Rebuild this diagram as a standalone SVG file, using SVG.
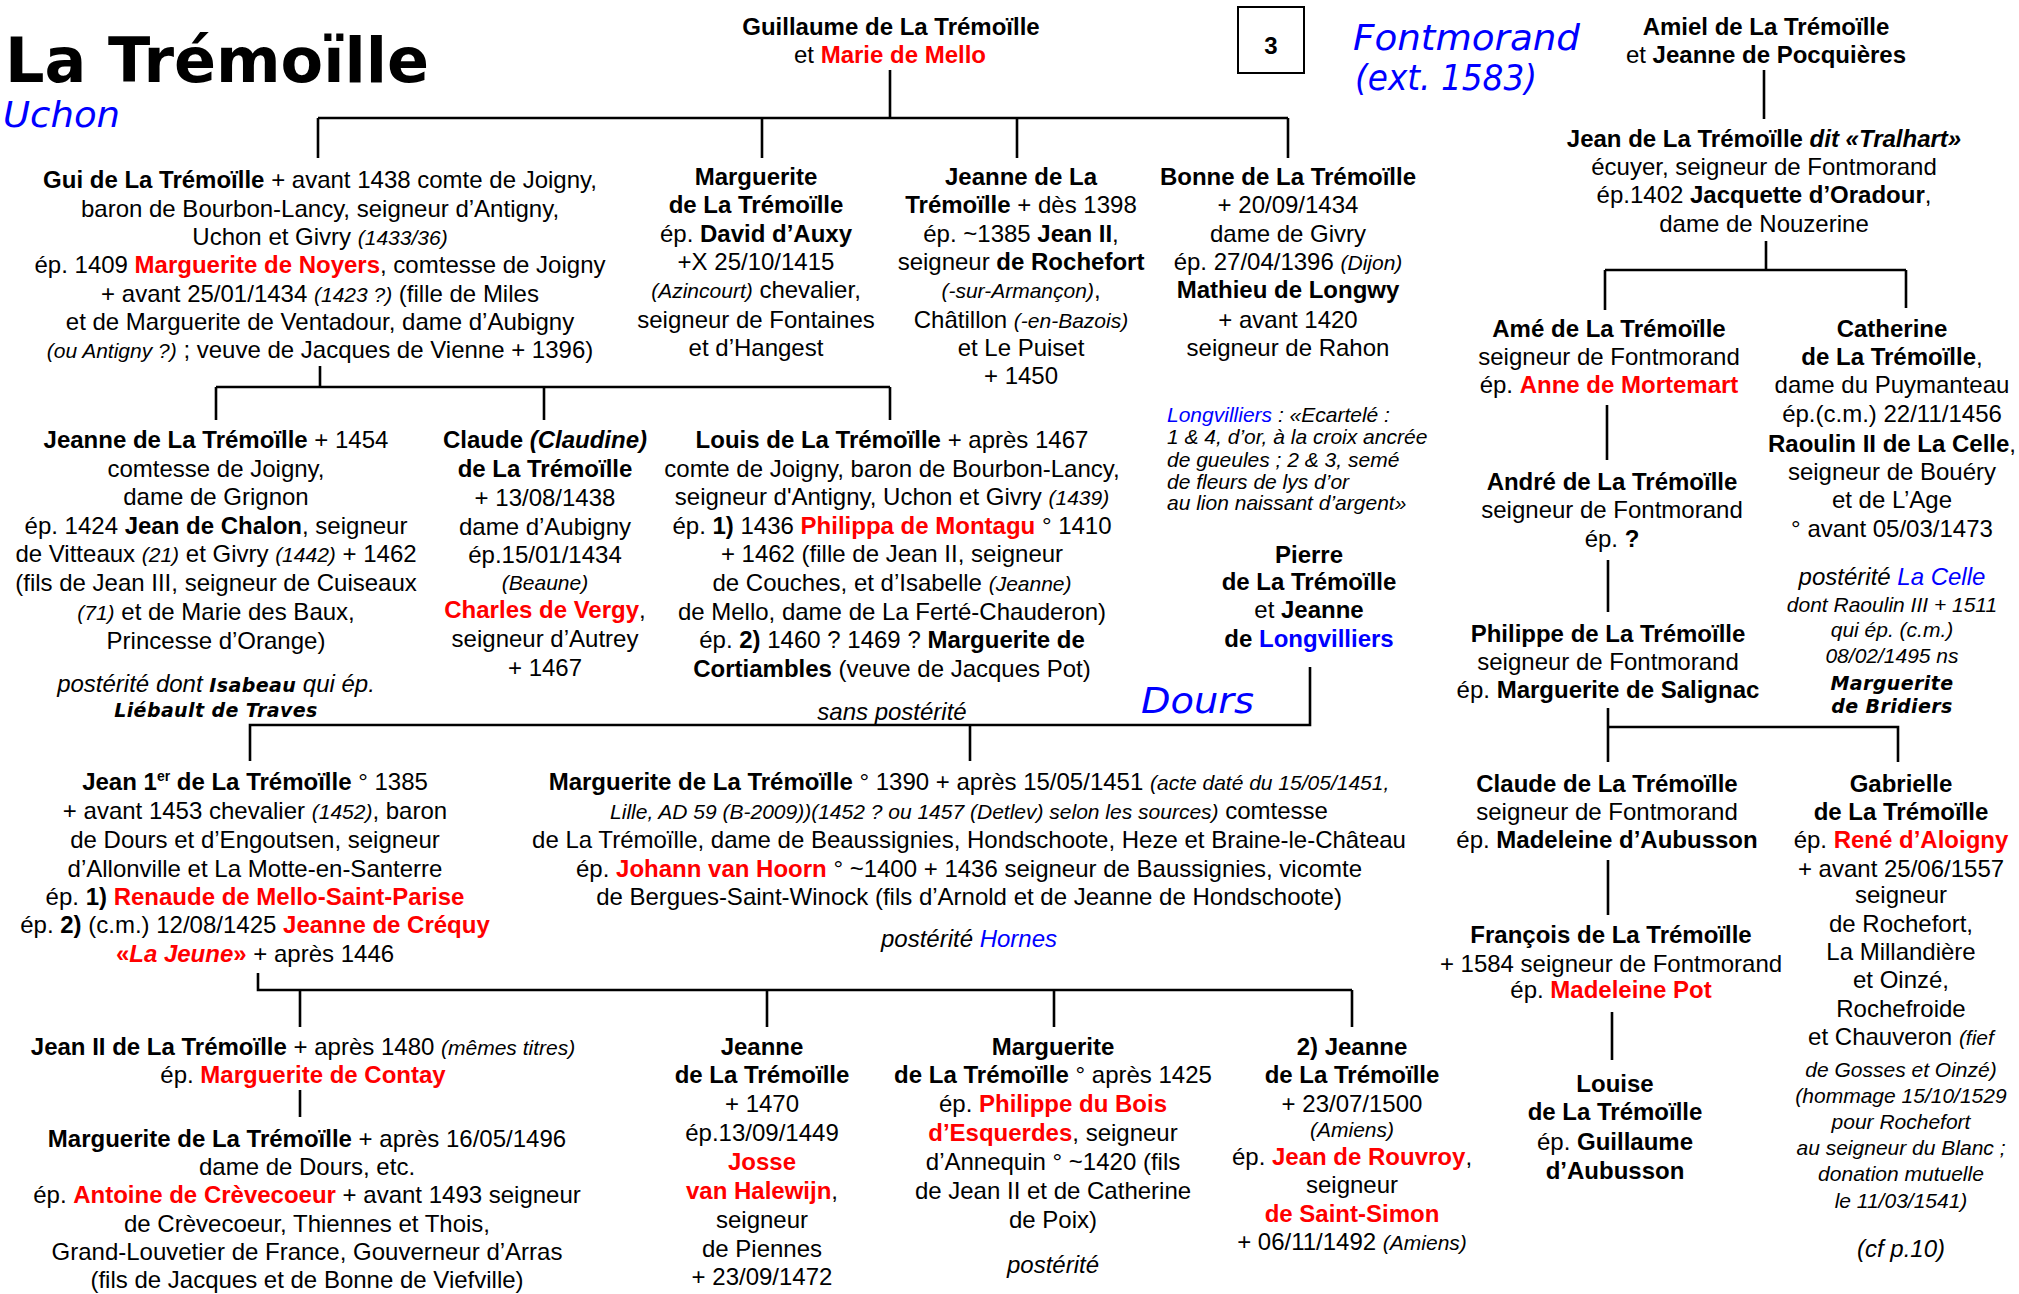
<svg xmlns="http://www.w3.org/2000/svg" width="2019" height="1294" viewBox="0 0 2019 1294">
<style>
.t{font-family:"Liberation Sans",Arial,sans-serif;font-size:24px;fill:#000;text-anchor:middle}
.l{text-anchor:start}
.b{font-weight:bold}
.i{font-style:italic}
.s{font-size:21px}
.n{font-size:21px}
.r{fill:#ff0000}
.u{fill:#0000ff}
.v{font-family:"DejaVu Sans",Verdana,sans-serif;font-weight:bold;font-style:italic;font-size:19px;letter-spacing:0.4px}
.h{font-family:"DejaVu Sans",Verdana,sans-serif;font-style:italic;fill:#0000ff;font-size:36px}
.ln{stroke:#000;stroke-width:2.6;fill:none}
</style>
<rect width="2019" height="1294" fill="#fff"/>

<g id="headings">
<text x="5" y="82" font-family="'DejaVu Sans',Verdana,sans-serif" font-weight="bold" font-size="62" textLength="424" lengthAdjust="spacingAndGlyphs">La Trémoïlle</text>
<text class="h" x="3" y="127" textLength="117" lengthAdjust="spacingAndGlyphs">Uchon</text>
<text class="h" x="1353" y="50" textLength="227" lengthAdjust="spacingAndGlyphs">Fontmorand</text>
<text class="h" x="1355" y="90" textLength="182" lengthAdjust="spacingAndGlyphs">(ext. 1583)</text>
<text class="h" x="1141" y="713" textLength="113" lengthAdjust="spacingAndGlyphs">Dours</text>
</g>

<g id="pagebox">
<rect x="1238" y="7" width="66" height="66" fill="none" stroke="#000" stroke-width="2"/>
<text class="t b" x="1271" y="54" font-size="28">3</text>
</g>

<g id="connectors" class="ln">
<path d="M890 70V118M318 118H1288M318 118V158M762 118V158M1017 118V158M1288 118V158"/>
<path d="M320 366V387M216 387H890M216 387V420M544 387V420M890 387V420"/>
<path d="M1310 667V725H250V761M970 725V761"/>
<path d="M258 973V990H1352M300 990V1027M767 990V1027M1054 990V1027M1352 990V1027"/>
<path d="M300 1090V1117"/>
<path d="M1764 70V119"/>
<path d="M1766 241V270M1605 270H1906M1605 270V310M1906 270V308"/>
<path d="M1607 405V460M1608 560V612"/>
<path d="M1608 708V762M1608 727H1898V762"/>
<path d="M1608 860V915M1612 1012V1060"/>
</g>

<g id="guillaume">
<text class="t b" x="891" y="35">Guillaume de La Trémoïlle</text>
<text class="t" x="890" y="63">et <tspan class="b r">Marie de Mello</tspan></text>
</g>

<g id="gui">
<text class="t" x="320" y="188"><tspan class="b">Gui de La Trémoïlle</tspan> + avant 1438 comte de Joigny,</text>
<text class="t" x="320" y="217">baron de Bourbon-Lancy, seigneur d’Antigny,</text>
<text class="t" x="320" y="245">Uchon et Givry <tspan class="i s">(1433/36)</tspan></text>
<text class="t" x="320" y="273">ép. 1409 <tspan class="b r">Marguerite de Noyers</tspan>, comtesse de Joigny</text>
<text class="t" x="320" y="302">+ avant 25/01/1434 <tspan class="i s">(1423 ?)</tspan> (fille de Miles</text>
<text class="t" x="320" y="330">et de Marguerite de Ventadour, dame d’Aubigny</text>
<text class="t" x="320" y="358"><tspan class="i s">(ou Antigny ?)</tspan> ; veuve de Jacques de Vienne + 1396)</text>
</g>

<g id="marguerite1">
<text class="t b" x="756" y="185">Marguerite</text>
<text class="t b" x="756" y="213">de La Trémoïlle</text>
<text class="t" x="756" y="242">ép. <tspan class="b">David d’Auxy</tspan></text>
<text class="t" x="756" y="270">+X 25/10/1415</text>
<text class="t" x="756" y="298"><tspan class="i s">(Azincourt)</tspan> chevalier,</text>
<text class="t" x="756" y="328">seigneur de Fontaines</text>
<text class="t" x="756" y="356">et d’Hangest</text>
</g>

<g id="jeanne1">
<text class="t b" x="1021" y="185">Jeanne de La</text>
<text class="t" x="1021" y="213"><tspan class="b">Trémoïlle</tspan> + dès 1398</text>
<text class="t" x="1021" y="242">ép. ~1385 <tspan class="b">Jean II</tspan>,</text>
<text class="t" x="1021" y="270">seigneur <tspan class="b">de Rochefort</tspan></text>
<text class="t" x="1021" y="298"><tspan class="i s">(-sur-Armançon)</tspan>,</text>
<text class="t" x="1021" y="328">Châtillon <tspan class="i s">(-en-Bazois)</tspan></text>
<text class="t" x="1021" y="356">et Le Puiset</text>
<text class="t" x="1021" y="384">+ 1450</text>
</g>

<g id="bonne">
<text class="t b" x="1288" y="185">Bonne de La Trémoïlle</text>
<text class="t" x="1288" y="213">+ 20/09/1434</text>
<text class="t" x="1288" y="242">dame de Givry</text>
<text class="t" x="1288" y="270">ép. 27/04/1396 <tspan class="i s">(Dijon)</tspan></text>
<text class="t b" x="1288" y="298">Mathieu de Longwy</text>
<text class="t" x="1288" y="328">+ avant 1420</text>
<text class="t" x="1288" y="356">seigneur de Rahon</text>
</g>

<g id="longvilliers-note">
<text class="t l i n" x="1167" y="422"><tspan class="u">Longvilliers</tspan> : «Ecartelé :</text>
<text class="t l i n" x="1167" y="444">1 &amp; 4, d’or, à la croix ancrée</text>
<text class="t l i n" x="1167" y="467">de gueules ; 2 &amp; 3, semé</text>
<text class="t l i n" x="1167" y="489">de fleurs de lys d’or</text>
<text class="t l i n" x="1167" y="510">au lion naissant d’argent»</text>
</g>

<g id="pierre">
<text class="t b" x="1309" y="563">Pierre</text>
<text class="t b" x="1309" y="590">de La Trémoïlle</text>
<text class="t" x="1309" y="618">et <tspan class="b">Jeanne</tspan></text>
<text class="t b" x="1309" y="647">de <tspan class="u">Longvilliers</tspan></text>
</g>

<g id="jeanne2">
<text class="t" x="216" y="448"><tspan class="b">Jeanne de La Trémoïlle</tspan> + 1454</text>
<text class="t" x="216" y="477">comtesse de Joigny,</text>
<text class="t" x="216" y="505">dame de Grignon</text>
<text class="t" x="216" y="534">ép. 1424 <tspan class="b">Jean de Chalon</tspan>, seigneur</text>
<text class="t" x="216" y="562">de Vitteaux <tspan class="i s">(21)</tspan> et Givry <tspan class="i s">(1442)</tspan> + 1462</text>
<text class="t" x="216" y="591">(fils de Jean III, seigneur de Cuiseaux</text>
<text class="t" x="216" y="620"><tspan class="i s">(71)</tspan> et de Marie des Baux,</text>
<text class="t" x="216" y="649">Princesse d’Orange)</text>
<text class="t i" x="216" y="692">postérité dont <tspan class="v">Isabeau</tspan> qui ép.</text>
<text class="t v" x="216" y="717">Liébault de Traves</text>
</g>

<g id="claude1">
<text class="t b" x="545" y="448">Claude <tspan class="i">(Claudine)</tspan></text>
<text class="t b" x="545" y="477">de La Trémoïlle</text>
<text class="t" x="545" y="506">+ 13/08/1438</text>
<text class="t" x="545" y="535">dame d’Aubigny</text>
<text class="t" x="545" y="563">ép.15/01/1434</text>
<text class="t i s" x="545" y="590">(Beaune)</text>
<text class="t" x="545" y="618"><tspan class="b r">Charles de Vergy</tspan>,</text>
<text class="t" x="545" y="647">seigneur d’Autrey</text>
<text class="t" x="545" y="676">+ 1467</text>
</g>

<g id="louis">
<text class="t" x="892" y="448"><tspan class="b">Louis de La Trémoïlle</tspan> + après 1467</text>
<text class="t" x="892" y="477">comte de Joigny, baron de Bourbon-Lancy,</text>
<text class="t" x="892" y="505">seigneur d'Antigny, Uchon et Givry <tspan class="i s">(1439)</tspan></text>
<text class="t" x="892" y="534">ép. <tspan class="b">1)</tspan> 1436 <tspan class="b r">Philippa de Montagu</tspan> ° 1410</text>
<text class="t" x="892" y="562">+ 1462 (fille de Jean II, seigneur</text>
<text class="t" x="892" y="591">de Couches, et d’Isabelle <tspan class="i s">(Jeanne)</tspan></text>
<text class="t" x="892" y="620">de Mello, dame de La Ferté-Chauderon)</text>
<text class="t" x="892" y="648">ép. <tspan class="b">2)</tspan> 1460 ? 1469 ? <tspan class="b">Marguerite de</tspan></text>
<text class="t" x="892" y="677"><tspan class="b">Cortiambles</tspan> (veuve de Jacques Pot)</text>
<text class="t i" x="892" y="720">sans postérité</text>
</g>

<g id="jean1">
<text class="t" x="255" y="790"><tspan class="b">Jean 1<tspan font-size="14" dy="-9">er</tspan><tspan dy="9"> de La Trémoïlle</tspan></tspan> ° 1385</text>
<text class="t" x="255" y="819">+ avant 1453 chevalier <tspan class="i s">(1452)</tspan>, baron</text>
<text class="t" x="255" y="848">de Dours et d’Engoutsen, seigneur</text>
<text class="t" x="255" y="877">d’Allonville et La Motte-en-Santerre</text>
<text class="t" x="255" y="905">ép. <tspan class="b">1)</tspan> <tspan class="b r">Renaude de Mello-Saint-Parise</tspan></text>
<text class="t" x="255" y="933">ép. <tspan class="b">2)</tspan> (c.m.) 12/08/1425 <tspan class="b r">Jeanne de Créquy</tspan></text>
<text class="t" x="255" y="962"><tspan class="b r">«<tspan class="i">La Jeune</tspan>»</tspan> + après 1446</text>
</g>

<g id="marguerite2">
<text class="t" x="969" y="790"><tspan class="b">Marguerite de La Trémoïlle</tspan> ° 1390 + après 15/05/1451 <tspan class="i s">(acte daté du 15/05/1451,</tspan></text>
<text class="t" x="969" y="819"><tspan class="i s">Lille, AD 59 (B-2009))(1452 ? ou 1457 (Detlev) selon les sources)</tspan> comtesse</text>
<text class="t" x="969" y="848">de La Trémoïlle, dame de Beaussignies, Hondschoote, Heze et Braine-le-Château</text>
<text class="t" x="969" y="877">ép. <tspan class="b r">Johann van Hoorn</tspan> ° ~1400 + 1436 seigneur de Baussignies, vicomte</text>
<text class="t" x="969" y="905">de Bergues-Saint-Winock (fils d’Arnold et de Jeanne de Hondschoote)</text>
<text class="t i" x="969" y="947">postérité <tspan class="u">Hornes</tspan></text>
</g>

<g id="amiel">
<text class="t b" x="1766" y="35">Amiel de La Trémoïlle</text>
<text class="t" x="1766" y="63">et <tspan class="b">Jeanne de Pocquières</tspan></text>
</g>

<g id="jean-tralhart">
<text class="t b" x="1764" y="147">Jean de La Trémoïlle <tspan class="i">dit «Tralhart»</tspan></text>
<text class="t" x="1764" y="175">écuyer, seigneur de Fontmorand</text>
<text class="t" x="1764" y="203">ép.1402 <tspan class="b">Jacquette d’Oradour</tspan>,</text>
<text class="t" x="1764" y="232">dame de Nouzerine</text>
</g>

<g id="ame">
<text class="t b" x="1609" y="337">Amé de La Trémoïlle</text>
<text class="t" x="1609" y="365">seigneur de Fontmorand</text>
<text class="t" x="1609" y="393">ép. <tspan class="b r">Anne de Mortemart</tspan></text>
</g>

<g id="catherine">
<text class="t b" x="1892" y="337">Catherine</text>
<text class="t" x="1892" y="365"><tspan class="b">de La Trémoïlle</tspan>,</text>
<text class="t" x="1892" y="393">dame du Puymanteau</text>
<text class="t" x="1892" y="422">ép.(c.m.) 22/11/1456</text>
<text class="t" x="1892" y="452"><tspan class="b">Raoulin II de La Celle</tspan>,</text>
<text class="t" x="1892" y="480">seigneur de Bouéry</text>
<text class="t" x="1892" y="508">et de L’Age</text>
<text class="t" x="1892" y="537">° avant 05/03/1473</text>
<text class="t i" x="1892" y="585">postérité <tspan class="u">La Celle</tspan></text>
<text class="t i s" x="1892" y="612">dont Raoulin III + 1511</text>
<text class="t i s" x="1892" y="637">qui ép. (c.m.)</text>
<text class="t i s" x="1892" y="663">08/02/1495 ns</text>
<text class="t v" x="1892" y="690" font-size="20">Marguerite</text>
<text class="t v" x="1892" y="713" font-size="20">de Bridiers</text>
</g>

<g id="andre">
<text class="t b" x="1612" y="490">André de La Trémoïlle</text>
<text class="t" x="1612" y="518">seigneur de Fontmorand</text>
<text class="t" x="1612" y="547">ép. <tspan class="b">?</tspan></text>
</g>

<g id="philippe">
<text class="t b" x="1608" y="642">Philippe de La Trémoïlle</text>
<text class="t" x="1608" y="670">seigneur de Fontmorand</text>
<text class="t" x="1608" y="698">ép. <tspan class="b">Marguerite de Salignac</tspan></text>
</g>

<g id="claude2">
<text class="t b" x="1607" y="792">Claude de La Trémoïlle</text>
<text class="t" x="1607" y="820">seigneur de Fontmorand</text>
<text class="t" x="1607" y="848">ép. <tspan class="b">Madeleine d’Aubusson</tspan></text>
</g>

<g id="francois">
<text class="t b" x="1611" y="943">François de La Trémoïlle</text>
<text class="t" x="1611" y="972">+ 1584 seigneur de Fontmorand</text>
<text class="t" x="1611" y="998">ép. <tspan class="b r">Madeleine Pot</tspan></text>
</g>

<g id="louise">
<text class="t b" x="1615" y="1092">Louise</text>
<text class="t b" x="1615" y="1120">de La Trémoïlle</text>
<text class="t" x="1615" y="1150">ép. <tspan class="b">Guillaume</tspan></text>
<text class="t b" x="1615" y="1179">d’Aubusson</text>
</g>

<g id="gabrielle">
<text class="t b" x="1901" y="792">Gabrielle</text>
<text class="t b" x="1901" y="820">de La Trémoïlle</text>
<text class="t" x="1901" y="848">ép. <tspan class="b r">René d’Aloigny</tspan></text>
<text class="t" x="1901" y="877">+ avant 25/06/1557</text>
<text class="t" x="1901" y="903">seigneur</text>
<text class="t" x="1901" y="932">de Rochefort,</text>
<text class="t" x="1901" y="960">La  Millandière</text>
<text class="t" x="1901" y="988">et Oinzé,</text>
<text class="t" x="1901" y="1017">Rochefroide</text>
<text class="t" x="1901" y="1045">et Chauveron <tspan class="i s">(fief</tspan></text>
<text class="t i s" x="1901" y="1077">de Gosses et Oinzé)</text>
<text class="t i s" x="1901" y="1103">(hommage 15/10/1529</text>
<text class="t i s" x="1901" y="1129">pour Rochefort</text>
<text class="t i s" x="1901" y="1155">au seigneur du Blanc ;</text>
<text class="t i s" x="1901" y="1181">donation mutuelle</text>
<text class="t i s" x="1901" y="1208">le 11/03/1541)</text>
<text class="t i" x="1901" y="1257">(cf p.10)</text>
</g>

<g id="jean2">
<text class="t" x="303" y="1055"><tspan class="b">Jean II de La Trémoïlle</tspan> + après 1480 <tspan class="i s">(mêmes titres)</tspan></text>
<text class="t" x="303" y="1083">ép. <tspan class="b r">Marguerite de Contay</tspan></text>
</g>

<g id="marguerite3">
<text class="t" x="307" y="1147"><tspan class="b">Marguerite de La Trémoïlle</tspan> + après 16/05/1496</text>
<text class="t" x="307" y="1175">dame de Dours, etc.</text>
<text class="t" x="307" y="1203">ép. <tspan class="b r">Antoine de Crèvecoeur</tspan> + avant 1493 seigneur</text>
<text class="t" x="307" y="1232">de Crèvecoeur, Thiennes et Thois,</text>
<text class="t" x="307" y="1260">Grand-Louvetier de France, Gouverneur d’Arras</text>
<text class="t" x="307" y="1288">(fils de Jacques et de Bonne de Viefville)</text>
</g>

<g id="jeanne3">
<text class="t b" x="762" y="1055">Jeanne</text>
<text class="t b" x="762" y="1083">de La Trémoïlle</text>
<text class="t" x="762" y="1112">+ 1470</text>
<text class="t" x="762" y="1141">ép.13/09/1449</text>
<text class="t b r" x="762" y="1170">Josse</text>
<text class="t" x="762" y="1199"><tspan class="b r">van Halewijn</tspan>,</text>
<text class="t" x="762" y="1228">seigneur</text>
<text class="t" x="762" y="1257">de  Piennes</text>
<text class="t" x="762" y="1285">+ 23/09/1472</text>
</g>

<g id="marguerite4">
<text class="t b" x="1053" y="1055">Marguerite</text>
<text class="t" x="1053" y="1083"><tspan class="b">de La Trémoïlle</tspan> ° après 1425</text>
<text class="t" x="1053" y="1112">ép. <tspan class="b r">Philippe du Bois</tspan></text>
<text class="t" x="1053" y="1141"><tspan class="b r">d’Esquerdes</tspan>, seigneur</text>
<text class="t" x="1053" y="1170">d’Annequin ° ~1420 (fils</text>
<text class="t" x="1053" y="1199">de Jean II et de Catherine</text>
<text class="t" x="1053" y="1228">de Poix)</text>
<text class="t i" x="1053" y="1273">postérité</text>
</g>

<g id="jeanne4">
<text class="t b" x="1352" y="1055">2) Jeanne</text>
<text class="t b" x="1352" y="1083">de La Trémoïlle</text>
<text class="t" x="1352" y="1112">+ 23/07/1500</text>
<text class="t i s" x="1352" y="1137">(Amiens)</text>
<text class="t" x="1352" y="1165">ép. <tspan class="b r">Jean de Rouvroy</tspan>,</text>
<text class="t" x="1352" y="1193">seigneur</text>
<text class="t b r" x="1352" y="1222">de Saint-Simon</text>
<text class="t" x="1352" y="1250">+ 06/11/1492 <tspan class="i s">(Amiens)</tspan></text>
</g>
</svg>
